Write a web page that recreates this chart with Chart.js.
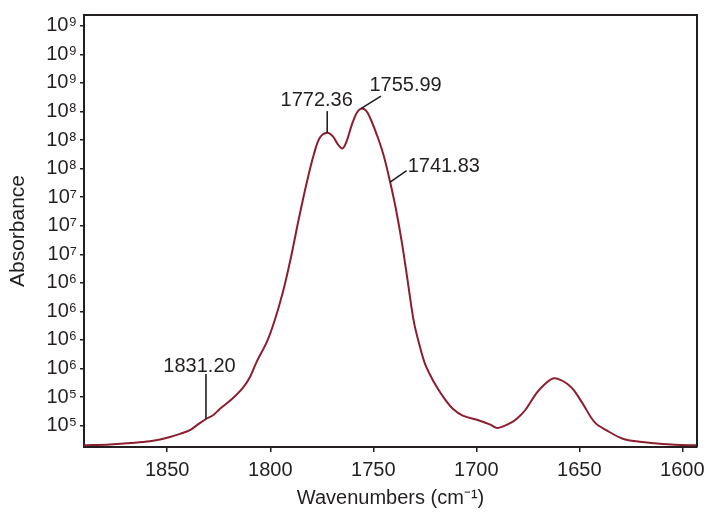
<!DOCTYPE html>
<html>
<head>
<meta charset="utf-8">
<script src="https://cdn.jsdelivr.net/npm/chart.js@4/dist/chart.umd.min.js"></script>
<style>
  html, body { margin: 0; padding: 0; background: #ffffff; }
  #wrap { width: 710px; height: 519px; position: relative; }
</style>
</head>
<body>
<div id="wrap"><canvas id="c" width="710" height="519"></canvas></div>
<script>
// ---- data ----
const wavenumbers = [
  1890.4, 1877.8, 1868.1, 1858.4, 1853.5, 1848.7, 1843.8, 1839.0, 1835.1, 1831.2,
  1827.8, 1824.4, 1818.6, 1813.3, 1809.9, 1806.5, 1801.6, 1797.8, 1793.9, 1790.0,
  1786.1, 1782.2, 1778.8, 1775.9, 1772.36, 1769.6, 1767.2, 1764.9, 1762.8, 1760.4,
  1758.0, 1755.99, 1753.5, 1751.2, 1747.8, 1744.9, 1741.83, 1739.1, 1736.1, 1733.2,
  1730.3, 1727.4, 1725.0, 1722.6, 1719.2, 1715.3, 1711.4, 1706.6, 1698.3, 1693.5,
  1690.1, 1686.7, 1682.9, 1680.4, 1676.5, 1670.8, 1666.8, 1662.8, 1659.5, 1655.6,
  1652.7, 1648.3, 1642.5, 1636.7, 1628.9, 1620.7, 1613.4, 1603.7, 1593.1
];
const absorbance = [
  0.31, 0.34, 0.39, 0.45, 0.51, 0.60, 0.71, 0.84, 1.04, 1.23,
  1.36, 1.59, 1.93, 2.32, 2.69, 3.25, 3.94, 4.70, 5.67, 6.88,
  8.26, 9.54, 10.51, 11.09, 11.26, 11.13, 10.85, 10.71, 10.99, 11.54,
  11.96, 12.10, 12.03, 11.72, 11.09, 10.44, 9.53, 8.61, 7.40, 6.01,
  4.63, 3.77, 3.18, 2.80, 2.35, 1.93, 1.59, 1.35, 1.17, 1.04,
  0.92, 0.98, 1.11, 1.24, 1.52, 2.14, 2.45, 2.65, 2.61, 2.45,
  2.24, 1.76, 1.11, 0.83, 0.54, 0.43, 0.38, 0.33, 0.31
];
const xTickValues = [1600, 1650, 1700, 1750, 1800, 1850];
const yTickValues = [1, 2, 3, 4, 5, 6, 7, 8, 9, 10, 11, 12, 13, 14, 15];
const yTickLabels = ['10\u2075','10\u2075','10\u2076','10\u2076','10\u2076','10\u2076','10\u2077','10\u2077','10\u2077','10\u2078','10\u2078','10\u2078','10\u2079','10\u2079','10\u2079'];
const peakWavenumbers = [1831.20, 1772.36, 1755.99, 1741.83];
const peakLabels = ['1831.20', '1772.36', '1755.99', '1741.83'];
const xRange = [1592.9, 1890.4];
const yRange = [0.25, 15.38];

// ---- styles for annotation leaders (pixel offsets from the curve point) ----
const leaderStyle = [
  { lx: 0,    ly: -45,   tx: -6.5, ty: -47,  align: 'center' },
  { lx: 0,    ly: -21.5, tx: -10.5, ty: -26.5, align: 'center' },
  { lx: 20,   ly: -12.5, tx: 8.5,  ty: -17.5, align: 'left' },
  { lx: 16.5, ly: -11.5, tx: 17.5, ty: -10,   align: 'left' }
];

const INK = '#231f20';
const FONT = '"Liberation Sans", Arial, sans-serif';

const framePlugin = {
  id: 'frame',
  afterDraw(chart) {
    const { ctx, chartArea: a } = chart;
    ctx.save();
    ctx.strokeStyle = INK;
    ctx.lineWidth = 2;
    ctx.beginPath();
    ctx.moveTo(a.left, a.top);
    ctx.lineTo(a.right, a.top);
    ctx.lineTo(a.right, a.bottom);
    ctx.stroke();
    ctx.restore();
  }
};

const peakPlugin = {
  id: 'peaks',
  afterDatasetsDraw(chart) {
    const { ctx } = chart;
    const meta = chart.getDatasetMeta(0);
    ctx.save();
    ctx.strokeStyle = INK;
    ctx.fillStyle = INK;
    ctx.lineWidth = 1.6;
    ctx.font = '20px ' + FONT;
    ctx.textBaseline = 'alphabetic';
    peakWavenumbers.forEach((w, k) => {
      const i = wavenumbers.findIndex(v => Math.abs(v - w) < 0.05);
      const el = meta.data[i];
      const px = el.x, py = el.y;
      const s = leaderStyle[k];
      ctx.beginPath();
      ctx.moveTo(px, py);
      ctx.lineTo(px + s.lx, py + s.ly);
      ctx.stroke();
      ctx.textAlign = s.align;
      ctx.fillText(peakLabels[k], px + s.tx, py + s.ty);
    });
    ctx.restore();
  }
};

new Chart(document.getElementById('c'), {
  type: 'line',
  data: {
    datasets: [{
      data: wavenumbers.map((w, i) => ({ x: w, y: absorbance[i] })),
      borderColor: '#8b1e2f',
      borderWidth: 2,
      pointRadius: 0,
      fill: false,
      tension: 0.35
    }]
  },
  options: {
    responsive: false,
    animation: false,
    events: [],
    layout: { padding: { top: 9, right: 13, left: 0, bottom: 0 } },
    plugins: { legend: { display: false }, tooltip: { enabled: false } },
    scales: {
      x: {
        type: 'linear',
        reverse: true,
        min: xRange[0],
        max: xRange[1],
        afterBuildTicks(scale) { scale.ticks = xTickValues.map(v => ({ value: v })); },
        afterFit(scale) { scale.height = 72; },
        border: { color: INK, width: 2 },
        grid: { drawOnChartArea: false, drawTicks: true, tickLength: 5, color: INK, lineWidth: 1.5 },
        ticks: { color: INK, font: { family: FONT, size: 20 }, padding: 6, maxRotation: 0,
                 callback: v => String(v) },
        title: { display: true, text: 'Wavenumbers (cm\u207B\u00B9)', color: INK,
                 font: { family: FONT, size: 20 }, padding: { top: 0, bottom: 9 } }
      },
      y: {
        type: 'linear',
        min: yRange[0],
        max: yRange[1],
        afterBuildTicks(scale) { scale.ticks = yTickValues.map(v => ({ value: v })); },
        afterFit(scale) { scale.width = 84; },
        border: { color: INK, width: 2 },
        grid: { drawOnChartArea: false, drawTicks: true, tickLength: 4, color: INK, lineWidth: 1.5 },
        ticks: { color: INK, font: { family: FONT, size: 20 }, padding: 3,
                 callback: (v, i) => yTickLabels[i] },
        title: { display: true, text: 'Absorbance', color: INK,
                 font: { family: FONT, size: 21 }, padding: { top: 6, bottom: 4 } }
      }
    }
  },
  plugins: [framePlugin, peakPlugin]
});
</script>
</body>
</html>
